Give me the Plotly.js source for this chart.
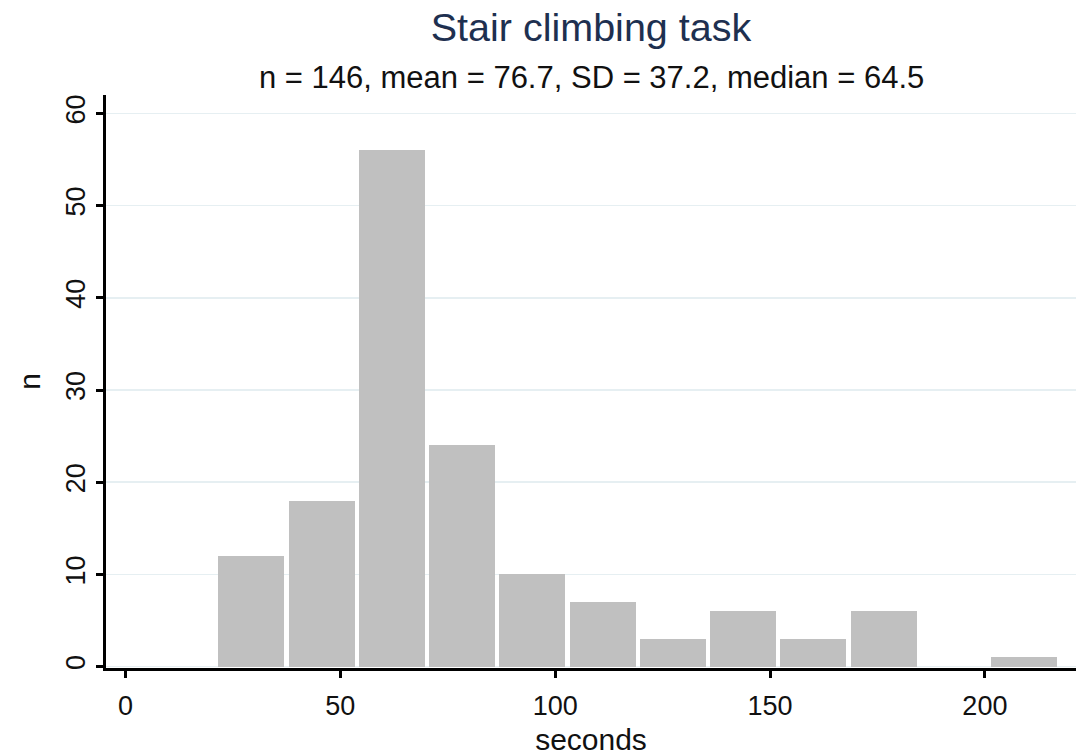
<!DOCTYPE html>
<html>
<head>
<meta charset="utf-8">
<script src="https://cdn.plot.ly/plotly-3.0.1.min.js"></script>
<style>
  html, body { margin: 0; padding: 0; background: #ffffff; }
  #chart { width: 1079px; height: 756px; }
</style>
</head>
<body>
<div id="chart"></div>
<script>
// Histogram data
const binStart = 21.1;      // lower edge of first bin (seconds)
const binWidth = 16.35;     // bin width (seconds)
const counts = [12, 18, 56, 24, 10, 7, 3, 6, 3, 6, 0, 1];
const xTickVals = [0, 50, 100, 150, 200];
const yTickVals = [0, 10, 20, 30, 40, 50, 60];
const titleText = "Stair climbing task";
const subtitleText = "n = 146, mean = 76.7, SD = 37.2, median = 64.5";
const xTitle = "seconds";
const yTitle = "n";

const centers = counts.map((c, i) => binStart + binWidth * (i + 0.5));

const FONT = '"Liberation Sans", Arial, Helvetica, sans-serif';

const trace = {
  type: 'bar',
  x: centers,
  y: counts,
  width: counts.map(() => binWidth * 0.94),
  marker: { color: '#c0c0c0', line: { color: '#ffffff', width: 0 } },
  hoverinfo: 'x+y'
};

const layout = {
  width: 1079,
  height: 756,
  paper_bgcolor: '#ffffff',
  plot_bgcolor: '#ffffff',
  margin: { l: 106, r: 3, t: 95, b: 88, pad: 0 },
  font: { family: FONT, color: '#111111' },
  showlegend: false,
  bargap: 0,
  title: {
    text: titleText,
    font: { family: FONT, size: 39.5, color: '#1e3050' },
    x: 0.5, xref: 'paper', xanchor: 'center',
    y: 0.964, yref: 'container', yanchor: 'middle'
  },
  annotations: [{
    text: subtitleText,
    xref: 'paper', yref: 'paper',
    x: 0.5, y: 1.0314,
    xanchor: 'center', yanchor: 'middle',
    showarrow: false,
    font: { family: FONT, size: 31, color: '#111111' }
  }],
  xaxis: {
    range: [-4.54, 221.2],
    tickmode: 'array',
    tickvals: xTickVals,
    ticktext: xTickVals.map(String),
    ticks: 'outside', ticklen: 7, tickwidth: 3, tickcolor: '#000000',
    showline: true, linecolor: '#000000', linewidth: 3,
    showgrid: false, zeroline: false,
    ticklabelstandoff: 5,
    tickfont: { family: FONT, size: 27, color: '#111111' },
    title: { text: xTitle, font: { family: FONT, size: 30, color: '#111111' }, standoff: 12 }
  },
  yaxis: {
    range: [-0.15, 62.0],
    tickmode: 'array',
    tickvals: yTickVals,
    ticktext: yTickVals.map(String),
    tickangle: -90,
    ticks: 'outside', ticklen: 7, tickwidth: 3, tickcolor: '#000000',
    showline: true, linecolor: '#000000', linewidth: 3,
    showgrid: true, gridcolor: '#e6eff2', gridwidth: 1.5,
    zeroline: false,
    tickfont: { family: FONT, size: 27, color: '#111111' },
    title: { text: yTitle, font: { family: FONT, size: 30, color: '#111111' }, standoff: 12 }
  }
};

Plotly.newPlot('chart', [trace], layout, { displayModeBar: false, staticPlot: true });
</script>
</body>
</html>
